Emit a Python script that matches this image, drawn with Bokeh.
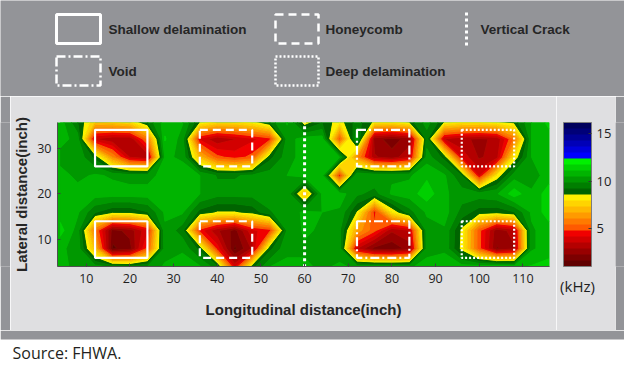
import numpy as np
from bokeh.plotting import figure
from bokeh.layouts import column, row
from bokeh.models import ColorBar, LinearColorMapper, FixedTicker, Range1d
from bokeh.core.properties import value
from bokeh.embed import file_html
from bokeh.resources import INLINE

# ---------------- data ----------------
x_pos = [4, 8, 12, 16, 20, 24, 28, 32, 36, 40, 44, 48, 52, 56, 60, 64, 68, 72, 76,
         80, 84, 88, 92, 96, 100, 104, 108, 112, 116]
y_pos = [4, 8, 12, 16, 20, 24, 28, 32, 36]

# resonant frequency (kHz) at each grid node, one row per lateral position
freq_y04 = [10.8, 10.2, 10.2, 9.8, 9.6, 10.0, 10.6, 10.8, 10.6, 9.5, 4.0, 9.0, 10.5, 10.6, 10.6,
            10.4, 10.6, 10.4, 10.4, 10.4, 10.4, 10.8, 10.8, 10.8, 11.0, 11.2, 11.0, 11.2, 11.4]
freq_y08 = [10.6, 10.3, 7.0, 1.5, 2.0, 5.0, 10.2, 10.4, 9.0, 4.5, 1.5, 3.0, 9.0, 10.4, 10.4,
            10.3, 10.2, 3.5, 2.0, 1.8, 2.5, 10.2, 10.4, 8.3, 5.0, 2.2, 2.8, 10.4, 10.8]
freq_y12 = [11.4, 10.2, 5.5, 2.0, 2.5, 4.0, 10.4, 9.5, 4.5, 3.0, 2.0, 4.0, 4.5, 10.0, 10.6,
            10.4, 10.0, 6.5, 5.0, 3.0, 3.5, 10.2, 10.4, 8.4, 5.0, 2.5, 3.2, 10.4, 10.8]
freq_y16 = [10.8, 10.6, 9.3, 8.7, 8.7, 9.2, 10.6, 10.6, 9.0, 8.5, 8.5, 8.8, 9.8, 10.2, 10.6,
            10.5, 10.4, 8.5, 4.5, 8.0, 9.6, 10.6, 10.8, 9.6, 8.9, 8.8, 9.2, 10.6, 11.5]
freq_y20 = [10.8, 10.8, 10.8, 10.8, 10.8, 10.8, 10.8, 10.8, 10.5, 10.1, 10.1, 10.1, 10.2, 10.4, 7.0,
            10.6, 10.8, 10.0, 9.6, 10.6, 10.8, 11.5, 10.6, 10.2, 10.2, 10.4, 11.5, 10.6, 11.5]
freq_y24 = [10.8, 10.3, 10.6, 10.4, 10.2, 10.2, 10.8, 10.8, 10.5, 9.8, 9.8, 10.0, 10.2, 10.5, 10.8,
            10.8, 4.5, 10.5, 10.4, 10.4, 10.4, 11.0, 10.6, 9.2, 4.0, 8.0, 10.2, 10.2, 10.8]
freq_y28 = [10.2, 10.4, 9.0, 6.0, 3.5, 3.0, 10.6, 10.4, 7.0, 5.0, 4.5, 5.0, 9.0, 10.2, 10.8,
            10.8, 10.5, 6.0, 3.0, 2.5, 3.5, 10.2, 9.0, 4.0, 2.8, 3.2, 8.0, 10.5, 10.8]
freq_y32 = [10.8, 10.2, 3.5, 3.0, 3.0, 5.5, 11.2, 10.2, 4.0, 3.0, 3.5, 4.0, 4.5, 10.2, 10.8,
            10.8, 5.0, 10.5, 2.5, 2.0, 2.5, 9.5, 3.5, 3.0, 2.8, 3.0, 5.5, 10.5, 10.8]
freq_y36 = [10.8, 9.2, 7.5, 7.8, 8.2, 9.5, 10.8, 10.6, 8.8, 8.2, 8.2, 8.6, 9.6, 10.6, 7.8,
            9.0, 8.3, 9.5, 8.5, 8.5, 9.0, 10.2, 8.8, 8.5, 8.5, 8.8, 9.0, 10.5, 11.4]

# defect outlines (inch)
shallow_x0, shallow_x1 = [12, 12], [24, 24]
shallow_y0, shallow_y1 = [26, 6], [34, 14]
honeycomb_x0, honeycomb_x1 = [36, 36], [48, 48]
honeycomb_y0, honeycomb_y1 = [26, 6], [34, 14]
void_x0, void_x1 = [72, 72], [84, 84]
void_y0, void_y1 = [26, 6], [34, 14]
deep_x0, deep_x1 = [96, 96], [108, 108]
deep_y0, deep_y1 = [26, 6], [34, 14]
crack_x = [60, 60]
crack_y = [0, 40]

x_ticks = [10, 20, 30, 40, 50, 60, 70, 80, 90, 100, 110]
y_ticks = [10, 20, 30]
cbar_ticks = [5, 10, 15]
freq_min, freq_max = 1.0, 16.2

legend_names = ["Shallow delamination", "Honeycomb", "Vertical Crack", "Void", "Deep delamination"]

PALETTE = [
    "#600000", "#7c0000", "#980000", "#b40000", "#d20000", "#f00000",
    "#ff5a00", "#ff7a00", "#ff9a00", "#ffb800", "#ffd400", "#fff000",
    "#006400", "#007e00", "#009800", "#00b400", "#00d000", "#00f000",
    "#0000ff", "#0000dc", "#0000b8", "#000096", "#000078", "#00005c",
]

z = np.array([freq_y04, freq_y08, freq_y12, freq_y16, freq_y20,
              freq_y24, freq_y28, freq_y32, freq_y36])
levels = np.linspace(freq_min, freq_max, len(PALETTE) + 1)

GRAY = "#939498"
PANEL = "#dfdfe1"
TXT = "#262626"


def blank(w, h, fill):
    f = figure(width=w, height=h, output_backend="svg", toolbar_location=None,
               x_axis_location=None, y_axis_location=None,
               x_range=Range1d(0, w), y_range=Range1d(h, 0),
               min_border=0, border_fill_color=fill, background_fill_color=fill,
               outline_line_color=None)
    f.grid.visible = False
    return f


# ---------------- legend strip ----------------
leg = blank(624, 96, GRAY)
key = dict(fill_alpha=0, line_color="white", line_width=2.5)
leg.quad(left=[56], right=[100], top=[14], bottom=[43], **dict(key, line_width=3))
leg.quad(left=[275], right=[318], top=[14], bottom=[43], line_dash="8 5", **key)
leg.quad(left=[56], right=[100], top=[56], bottom=[85], line_dash="9 3 2 3", **key)
leg.quad(left=[275], right=[318], top=[56], bottom=[85], line_dash="2 2", **key)
leg.line(x=[466, 466], y=[12, 48], line_color="white", line_width=3, line_dash="3 3")
leg.text(x=[108, 325, 480, 108, 325], y=[29, 29, 29, 71, 71], text=legend_names,
         text_font=value("Liberation Sans"), text_font_style="bold",
         text_font_size=value("13.5px"), text_color=TXT,
         text_align="left", text_baseline="middle")

# ---------------- main plot ----------------
MH = 234
p = figure(width=546, height=MH, x_range=(3.4, 116.1), y_range=(4.1, 35.6),
           output_backend="svg", toolbar_location=None,
           min_border_left=43, min_border_right=7, min_border_top=26, min_border_bottom=64,
           border_fill_color=PANEL, background_fill_color="#00b400",
           outline_line_color=None)
p.grid.visible = False

p.contour(x=x_pos, y=y_pos, z=z, levels=levels, fill_color=PALETTE,
          line_color=PALETTE + [PALETTE[-1]], line_width=1)

p.quad(left=shallow_x0, right=shallow_x1, bottom=shallow_y0, top=shallow_y1,
       fill_alpha=0, line_color="white", line_width=2.2)
p.quad(left=honeycomb_x0, right=honeycomb_x1, bottom=honeycomb_y0, top=honeycomb_y1,
       fill_alpha=0, line_color="white", line_width=2.2, line_dash="8 5")
p.quad(left=void_x0, right=void_x1, bottom=void_y0, top=void_y1,
       fill_alpha=0, line_color="white", line_width=2.2, line_dash="9 3 2 3")
p.quad(left=deep_x0, right=deep_x1, bottom=deep_y0, top=deep_y1,
       fill_alpha=0, line_color="white", line_width=2.2, line_dash="2 2")
p.line(x=crack_x, y=crack_y, line_color="white", line_width=3, line_dash="3 3")

for ax in (p.xaxis[0], p.yaxis[0]):
    ax.major_tick_in = 3
    ax.major_tick_out = 0
    ax.minor_tick_line_color = None
    ax.axis_line_color = "#505050"
    ax.major_tick_line_color = "#404040"
    ax.major_label_text_font = "Open Sans"
    ax.major_label_text_font_size = "12.5px"
    ax.major_label_text_color = "#1e1e1e"
    ax.axis_label_text_font = "Liberation Sans"
    ax.axis_label_text_font_style = "bold"
    ax.axis_label_text_font_size = "15px"
    ax.axis_label_text_color = TXT
p.xaxis.ticker = FixedTicker(ticks=x_ticks)
p.yaxis.ticker = FixedTicker(ticks=y_ticks)
p.xaxis.axis_label = "Longitudinal distance(inch)"
p.yaxis.axis_label = "Lateral distance(inch)"
p.xaxis.major_label_standoff = 7
p.xaxis.axis_label_standoff = 15
p.yaxis.major_label_standoff = 6
p.yaxis.axis_label_standoff = 4

# ---------------- colour bar strip ----------------
# frame of this figure is exactly the colour bar rectangle
cbf = figure(width=59, height=MH, output_backend="svg", toolbar_location=None,
             x_range=Range1d(0, 1), y_range=Range1d(0, 1),
             x_axis_location="below", y_axis_location=None,
             min_border_left=7, min_border_right=24, min_border_top=26, min_border_bottom=64,
             border_fill_color=PANEL, background_fill_color=PANEL,
             outline_line_color=None)
cbf.grid.visible = False
cbx = cbf.xaxis[0]
cbx.ticker = FixedTicker(ticks=[])
cbx.axis_line_color = None
cbx.major_tick_line_color = None
cbx.minor_tick_line_color = None
cbx.axis_label = "(kHz)"
cbx.axis_label_text_font = "Open Sans"
cbx.axis_label_text_font_style = "normal"
cbx.axis_label_text_font_size = "15px"
cbx.axis_label_text_color = "#1e1e1e"
cbx.axis_label_standoff = 9

mapper = LinearColorMapper(palette=PALETTE, low=freq_min, high=freq_max)
cb = ColorBar(color_mapper=mapper, ticker=FixedTicker(ticks=cbar_ticks),
              orientation="vertical", width=28, height=144,
              location=(0, 0), padding=0, margin=0,
              background_fill_alpha=0, border_line_color=None,
              bar_line_color="#7c7c7c", major_tick_in=3, major_tick_out=0,
              major_tick_line_color="#333333", minor_tick_line_color=None,
              label_standoff=5, major_label_text_font="Open Sans",
              major_label_text_font_size="13px", major_label_text_color="#1e1e1e")
cbf.add_layout(cb, "center")

left_strip = blank(10, MH, GRAY)
right_strip = blank(9, MH, GRAY)

# ---------------- footer ----------------
foot = blank(624, 39, "white")
foot.quad(left=[0], right=[624], top=[0], bottom=[9], fill_color=GRAY, line_color=None)
foot.text(x=[12], y=[22], text=["Source: FHWA."], text_font=value("Open Sans"),
          text_font_size=value("16px"), text_color="#231f20",
          text_align="left", text_baseline="middle")

layout = column(leg, row(left_strip, p, cbf, right_strip, spacing=0), foot, spacing=0)
open("out.html", "w").write(file_html(layout, INLINE))
